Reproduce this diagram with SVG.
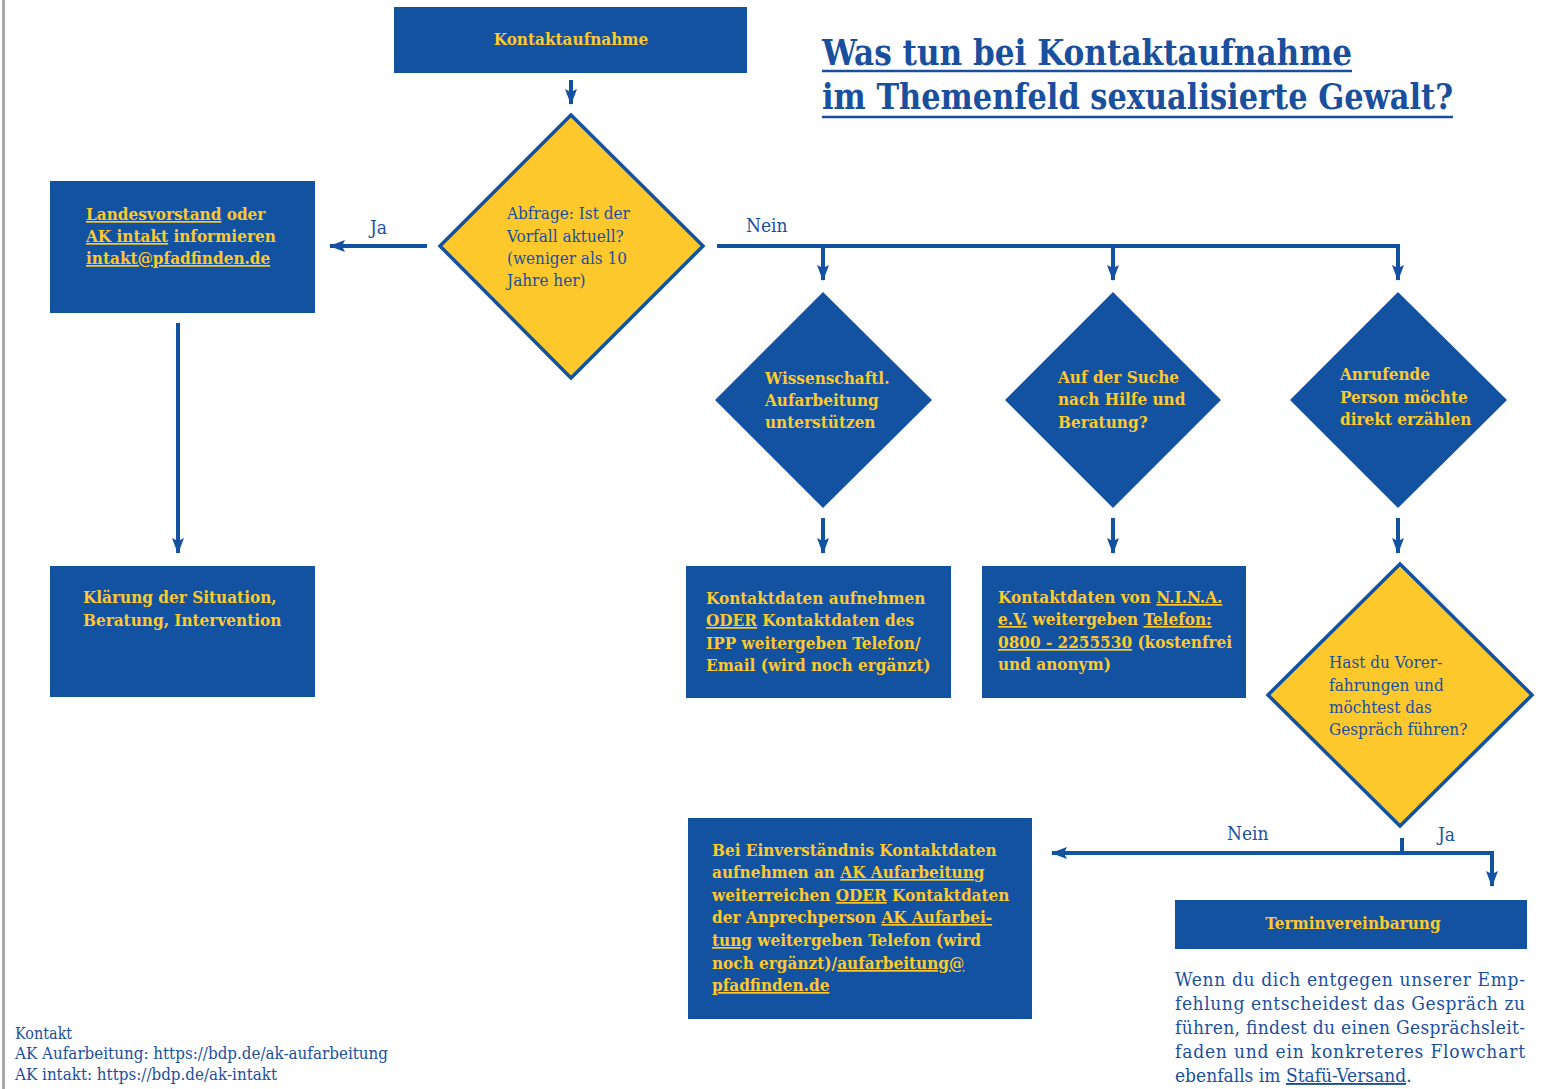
<svg xmlns="http://www.w3.org/2000/svg" width="1550" height="1089" viewBox="0 0 1550 1089">
<defs>
<style>
.box{fill:#1352a1;}
.yd{fill:#fdc82b;stroke:#1352a1;stroke-width:3.5;}
.bt{font-family:"DejaVu Serif Condensed","DejaVu Serif",serif;font-weight:bold;font-size:17px;fill:#fcc92e;}
.dt{font-family:"DejaVu Serif Condensed","DejaVu Serif",serif;font-size:17px;fill:#1a4f9e;}
.lbl{font-family:"DejaVu Serif Condensed","DejaVu Serif",serif;font-size:19px;fill:#1a4f9e;}
.ttl{font-family:"DejaVu Serif Condensed","DejaVu Serif",serif;font-weight:bold;font-size:35px;fill:#1a4f9e;}
.par{font-family:"DejaVu Serif Condensed","DejaVu Serif",serif;font-size:19px;fill:#1a4f9e;}
.foot{font-family:"DejaVu Serif Condensed","DejaVu Serif",serif;font-size:16px;fill:#1a4f9e;}
.u{text-decoration:underline;}
.con{fill:none;stroke:#1352a1;stroke-width:4;}
</style>
<marker id="ah" viewBox="0 0 16 12" refX="15" refY="6" markerWidth="16" markerHeight="12" orient="auto" markerUnits="userSpaceOnUse">
<path d="M0,0 L16,6 L0,12 L3,6 z" fill="#1352a1"/>
</marker>
</defs>
<rect width="1550" height="1089" fill="#ffffff"/>
<line x1="3.5" y1="0" x2="3.5" y2="1089" stroke="#a9a9a9" stroke-width="3"/>

<g id="title">
<text class="ttl" x="822" y="65" textLength="530" lengthAdjust="spacingAndGlyphs">Was tun bei Kontaktaufnahme</text>
<line x1="822" y1="71" x2="1352" y2="71" stroke="#1a4f9e" stroke-width="2.5"/>
<text class="ttl" x="822" y="109" textLength="631" lengthAdjust="spacingAndGlyphs">im Themenfeld sexualisierte Gewalt?</text>
<line x1="822" y1="117" x2="1453" y2="117" stroke="#1a4f9e" stroke-width="2.5"/>
</g>

<g id="connectors">
<line class="con" x1="571" y1="80" x2="571" y2="104" marker-end="url(#ah)"/>
<line class="con" x1="427" y1="246" x2="330" y2="246" marker-end="url(#ah)"/>
<polyline class="con" points="717,246 1398,246 1398,280" marker-end="url(#ah)"/>
<line class="con" x1="823" y1="244" x2="823" y2="280" marker-end="url(#ah)"/>
<line class="con" x1="1113" y1="244" x2="1113" y2="280" marker-end="url(#ah)"/>
<line class="con" x1="178" y1="323" x2="178" y2="553" marker-end="url(#ah)"/>
<line class="con" x1="823" y1="518" x2="823" y2="553" marker-end="url(#ah)"/>
<line class="con" x1="1113" y1="518" x2="1113" y2="553" marker-end="url(#ah)"/>
<line class="con" x1="1398" y1="518" x2="1398" y2="553" marker-end="url(#ah)"/>
<line class="con" x1="1402" y1="838" x2="1402" y2="855"/>
<line class="con" x1="1492" y1="853" x2="1052" y2="853" marker-end="url(#ah)"/>
<polyline class="con" points="1400,853 1492,853 1492,886" marker-end="url(#ah)"/>
<text class="lbl" x="370" y="234">Ja</text>
<text class="lbl" x="746" y="232">Nein</text>
<text class="lbl" x="1227" y="840">Nein</text>
<text class="lbl" x="1438" y="841">Ja</text>
</g>

<g id="n-kontakt">
<rect class="box" x="394" y="7" width="353" height="66"/>
<text class="bt" x="571" y="45" text-anchor="middle">Kontaktaufnahme</text>
</g>

<g id="n-abfrage">
<polygon class="yd" points="571,115 703,246 571,378 440,246"/>
<text class="dt"><tspan x="507" y="219">Abfrage: Ist der</tspan><tspan x="507" y="242">Vorfall aktuell?</tspan><tspan x="507" y="264">(weniger als 10</tspan><tspan x="507" y="286">Jahre her)</tspan></text>
</g>

<g id="n-landes">
<rect class="box" x="50" y="181" width="265" height="132"/>
<text class="bt"><tspan x="86" y="220"><tspan class="u">Landesvorstand</tspan> oder</tspan><tspan x="86" y="242"><tspan class="u">AK intakt</tspan> informieren</tspan><tspan x="86" y="264" class="u">intakt@pfadfinden.de</tspan></text>
</g>

<g id="n-klaerung">
<rect class="box" x="50" y="566" width="265" height="131"/>
<text class="bt"><tspan x="83" y="603">Klärung der Situation,</tspan><tspan x="83" y="626">Beratung, Intervention</tspan></text>
</g>

<g id="n-wiss">
<polygon class="box" points="823,292 932,400 823,508 715,400"/>
<text class="bt"><tspan x="765" y="384">Wissenschaftl.</tspan><tspan x="765" y="406">Aufarbeitung</tspan><tspan x="765" y="428">unterstützen</tspan></text>
</g>

<g id="n-suche">
<polygon class="box" points="1113,292 1221,400 1113,508 1005,400"/>
<text class="bt"><tspan x="1058" y="383">Auf der Suche</tspan><tspan x="1058" y="405">nach Hilfe und</tspan><tspan x="1058" y="428">Beratung?</tspan></text>
</g>

<g id="n-anruf">
<polygon class="box" points="1398,292 1507,400 1398,508 1290,400"/>
<text class="bt"><tspan x="1340" y="380">Anrufende</tspan><tspan x="1340" y="403">Person möchte</tspan><tspan x="1340" y="425">direkt erzählen</tspan></text>
</g>

<g id="n-kd1">
<rect class="box" x="686" y="566" width="265" height="132"/>
<text class="bt"><tspan x="706" y="604">Kontaktdaten aufnehmen</tspan><tspan x="706" y="626"><tspan class="u">ODER</tspan> Kontaktdaten des</tspan><tspan x="706" y="649">IPP weitergeben Telefon/</tspan><tspan x="706" y="671">Email (wird noch ergänzt)</tspan></text>
</g>

<g id="n-kd2">
<rect class="box" x="982" y="566" width="264" height="132"/>
<text class="bt"><tspan x="998" y="603">Kontaktdaten von <tspan class="u">N.I.N.A.</tspan></tspan><tspan x="998" y="625"><tspan class="u">e.V.</tspan> weitergeben <tspan class="u">Telefon:</tspan></tspan><tspan x="998" y="648"><tspan class="u">0800 - 2255530</tspan> (kostenfrei</tspan><tspan x="998" y="670">und anonym)</tspan></text>
</g>

<g id="n-hast">
<polygon class="yd" points="1400,564 1532,695 1400,826 1268,695"/>
<text class="dt"><tspan x="1329" y="668">Hast du Vorer-</tspan><tspan x="1329" y="691">fahrungen und</tspan><tspan x="1329" y="713">möchtest das</tspan><tspan x="1329" y="735">Gespräch führen?</tspan></text>
</g>

<g id="n-bei">
<rect class="box" x="688" y="818" width="344" height="201"/>
<text class="bt"><tspan x="712" y="856">Bei Einverständnis Kontaktdaten</tspan><tspan x="712" y="878">aufnehmen an <tspan class="u">AK Aufarbeitung</tspan></tspan><tspan x="712" y="901">weiterreichen <tspan class="u">ODER</tspan> Kontaktdaten</tspan><tspan x="712" y="923">der Anprechperson <tspan class="u">AK Aufarbei-</tspan></tspan><tspan x="712" y="946"><tspan class="u">tung</tspan> weitergeben Telefon (wird</tspan><tspan x="712" y="969">noch ergänzt)/<tspan class="u">aufarbeitung@</tspan></tspan><tspan x="712" y="991" class="u">pfadfinden.de</tspan></text>
</g>

<g id="n-termin">
<rect class="box" x="1175" y="900" width="352" height="49"/>
<text class="bt" x="1353" y="929" text-anchor="middle">Terminvereinbarung</text>
</g>

<g id="note">
<text class="par" x="1175" y="986" textLength="350" lengthAdjust="spacing">Wenn du dich entgegen unserer Emp-</text>
<text class="par" x="1175" y="1010" textLength="350" lengthAdjust="spacing">fehlung entscheidest das Gespräch zu</text>
<text class="par" x="1175" y="1034" textLength="350" lengthAdjust="spacing">führen, findest du einen Gesprächsleit-</text>
<text class="par" x="1175" y="1058" textLength="350" lengthAdjust="spacing">faden und ein konkreteres Flowchart</text>
<text class="par" x="1175" y="1082">ebenfalls im <tspan class="u">Stafü-Versand</tspan>.</text>
</g>

<g id="footer">
<text class="foot" x="15" y="1039">Kontakt</text>
<text class="foot" x="15" y="1059" textLength="373" lengthAdjust="spacingAndGlyphs">AK Aufarbeitung: https://bdp.de/ak-aufarbeitung</text>
<text class="foot" x="15" y="1080" textLength="262" lengthAdjust="spacingAndGlyphs">AK intakt: https://bdp.de/ak-intakt</text>
</g>
</svg>
